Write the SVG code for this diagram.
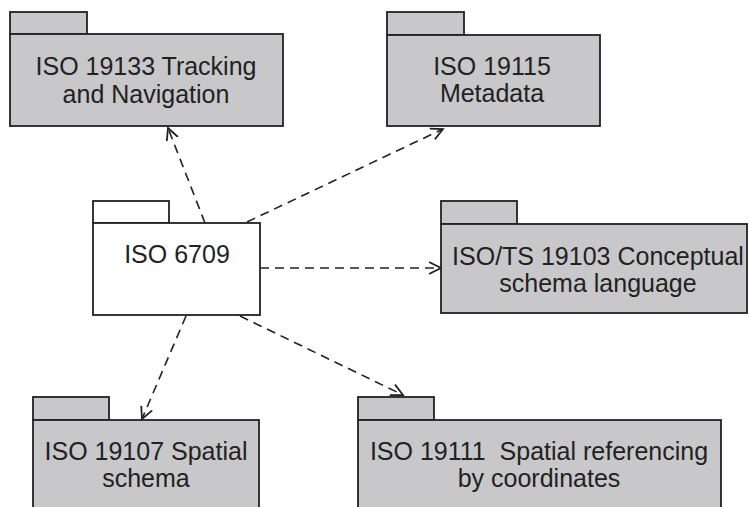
<svg xmlns="http://www.w3.org/2000/svg" width="749" height="507" viewBox="0 0 749 507">
<defs>
<style>
.pkg{fill:#c8c8ca;stroke:#222;stroke-width:1.8}
.pkgw{fill:#fff;stroke:#222;stroke-width:1.8}
.lbl{font-family:"Liberation Sans",Arial,sans-serif;font-size:25px;fill:#222;text-anchor:middle;white-space:pre}
.dep{fill:none;stroke:#222;stroke-width:1.6;stroke-dasharray:9 6}
</style>
<marker id="open" markerUnits="userSpaceOnUse" markerWidth="16" markerHeight="16" refX="12" refY="6" orient="auto" viewBox="0 0 16 12">
<path d="M0,0 L12,6 L0,12" fill="none" stroke="#222" stroke-width="1.8"/>
</marker>
</defs>
<rect width="749" height="507" fill="#fff"/>
<g id="connectors">
<line class="dep" x1="205" y1="223" x2="168" y2="128" marker-end="url(#open)"/>
<line class="dep" x1="247" y1="222" x2="443" y2="129" marker-end="url(#open)"/>
<line class="dep" x1="260" y1="268" x2="441" y2="268" marker-end="url(#open)"/>
<line class="dep" x1="186" y1="316" x2="142" y2="419" marker-end="url(#open)"/>
<line class="dep" x1="240" y1="316" x2="403" y2="395" marker-end="url(#open)"/>
</g>
<g id="iso19133">
<rect class="pkg" x="10" y="12" width="77" height="22"/>
<rect class="pkg" x="10" y="34" width="273" height="92"/>
<text class="lbl" x="146" y="75">ISO 19133 Tracking</text>
<text class="lbl" x="146" y="103">and Navigation</text>
</g>
<g id="iso19115">
<rect class="pkg" x="387" y="12" width="77" height="23"/>
<rect class="pkg" x="387" y="35" width="213" height="91"/>
<text class="lbl" x="492" y="75">ISO 19115</text>
<text class="lbl" x="492" y="102">Metadata</text>
</g>
<g id="iso6709">
<rect class="pkgw" x="93" y="201" width="76" height="22"/>
<rect class="pkgw" x="93" y="223" width="167" height="92"/>
<text class="lbl" x="177" y="263">ISO 6709</text>
</g>
<g id="iso19103">
<rect class="pkg" x="441" y="201" width="76" height="23"/>
<rect class="pkg" x="441" y="224" width="306" height="89"/>
<text class="lbl" x="598" y="265">ISO/TS 19103 Conceptual</text>
<text class="lbl" x="598" y="292">schema language</text>
</g>
<g id="iso19107">
<rect class="pkg" x="33" y="397" width="76" height="23"/>
<rect class="pkg" x="33" y="420" width="226" height="100"/>
<text class="lbl" x="146" y="460">ISO 19107 Spatial</text>
<text class="lbl" x="146" y="487">schema</text>
</g>
<g id="iso19111">
<rect class="pkg" x="358" y="397" width="76" height="23"/>
<rect class="pkg" x="358" y="420" width="363" height="100"/>
<text class="lbl" x="539" y="460">ISO 19111  Spatial referencing</text>
<text class="lbl" x="539" y="487">by coordinates</text>
</g>
</svg>
